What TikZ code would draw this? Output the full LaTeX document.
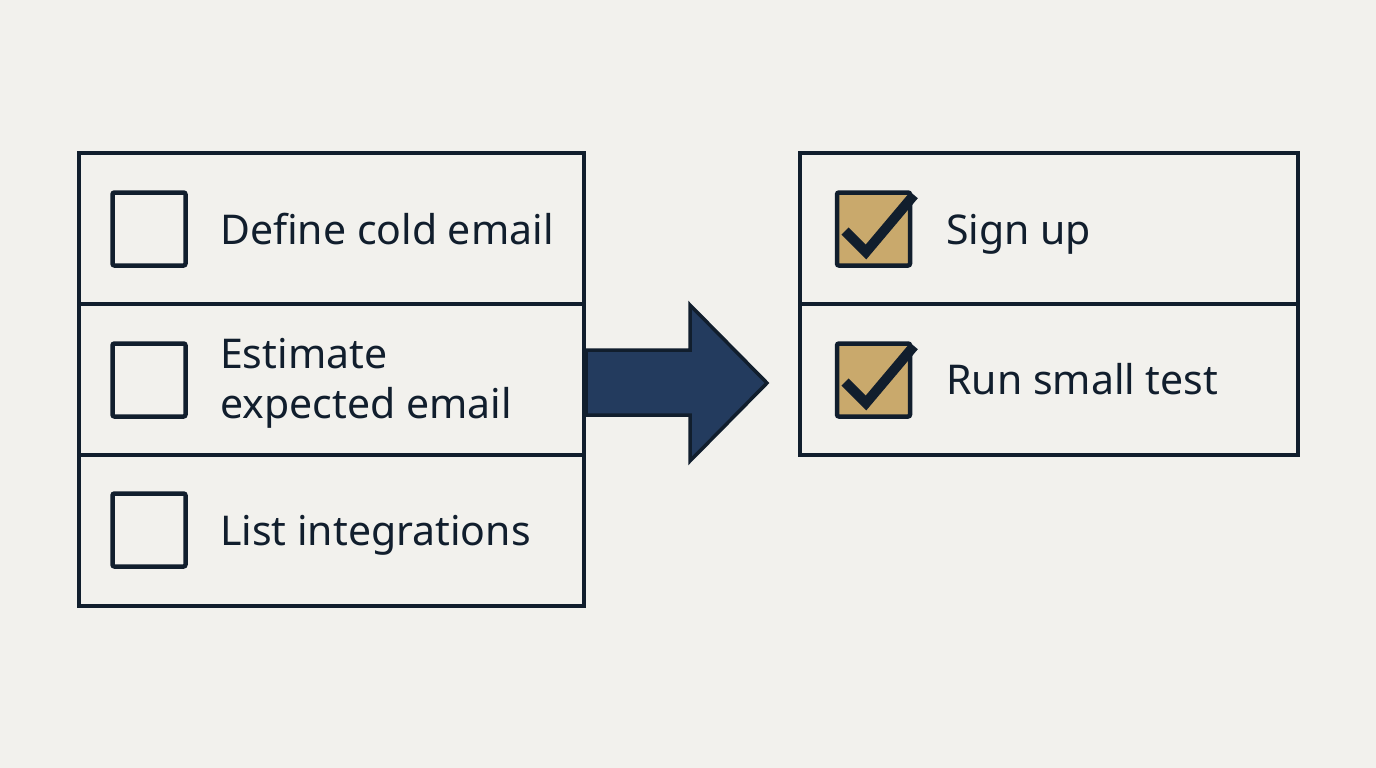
\documentclass[tikz,border=0pt]{standalone}
\usepackage{fontspec}
\setmainfont{Noto Sans}
\usetikzlibrary{positioning}

\definecolor{paper}{HTML}{F2F1ED}
\definecolor{ink}{HTML}{111E2D}
\definecolor{tan}{HTML}{C9A96C}
\definecolor{navy}{HTML}{233B5E}

\tikzset{
  row/.style={draw=ink,line width=4pt,minimum height=151pt,inner sep=0pt},
  lrow/.style={row,minimum width=505pt},
  rrow/.style={row,minimum width=498pt},
  tick/.style={draw=ink,line width=4.5pt,rounded corners=2pt,minimum size=73pt,inner sep=0pt},
  done/.style={tick,fill=tan},
  item/.style={anchor=base west,inner sep=0pt,text=ink,align=left,
    font=\fontsize{41}{50}\selectfont},
}

\begin{document}
\begin{tikzpicture}[x=1pt,y=-1pt]
\fill[paper] (0,0) rectangle (1376,768);
\useasboundingbox (0,0) rectangle (1376,768);

\node[lrow] (l1) at (331.5,228.5) {};
\node[lrow] (l2) at (331.5,379.5) {};
\node[lrow] (l3) at (331.5,530.5) {};

\node[rrow] (r1) at (1049,228.5) {};
\node[rrow] (r2) at (1049,379.5) {};

\node[tick] (b1) at (149,229) {};
\node[tick] (b2) at (149,380) {};
\node[tick] (b3) at (149,530) {};

\node[done] (c1) at (873.5,229) {};
\node[done] (c2) at (873.5,380) {};

\draw[ink,line width=10pt,line join=miter] (845,231) -- (866,252) -- (914,195);
\draw[ink,line width=10pt,line join=miter] (845,382) -- (866,403) -- (914,346);

\node[item] (t1) at (220,244) {Define cold email};
\node[item] (t2) at (220,418) {Estimate\\expected email};
\node[item] (t3) at (220,545) {List integrations};

\node[item] (t4) at (946,244) {Sign up};
\node[item] (t5) at (946,394) {Run small test};

\draw[ink,line width=3.5pt,fill=navy,line join=miter]
  (l2.east |- 0,350) -- (690,350) -- (690,305) -- (767,383)
  -- (690,461) -- (690,415) -- (l2.east |- 0,415) -- cycle;
\end{tikzpicture}
\end{document}
